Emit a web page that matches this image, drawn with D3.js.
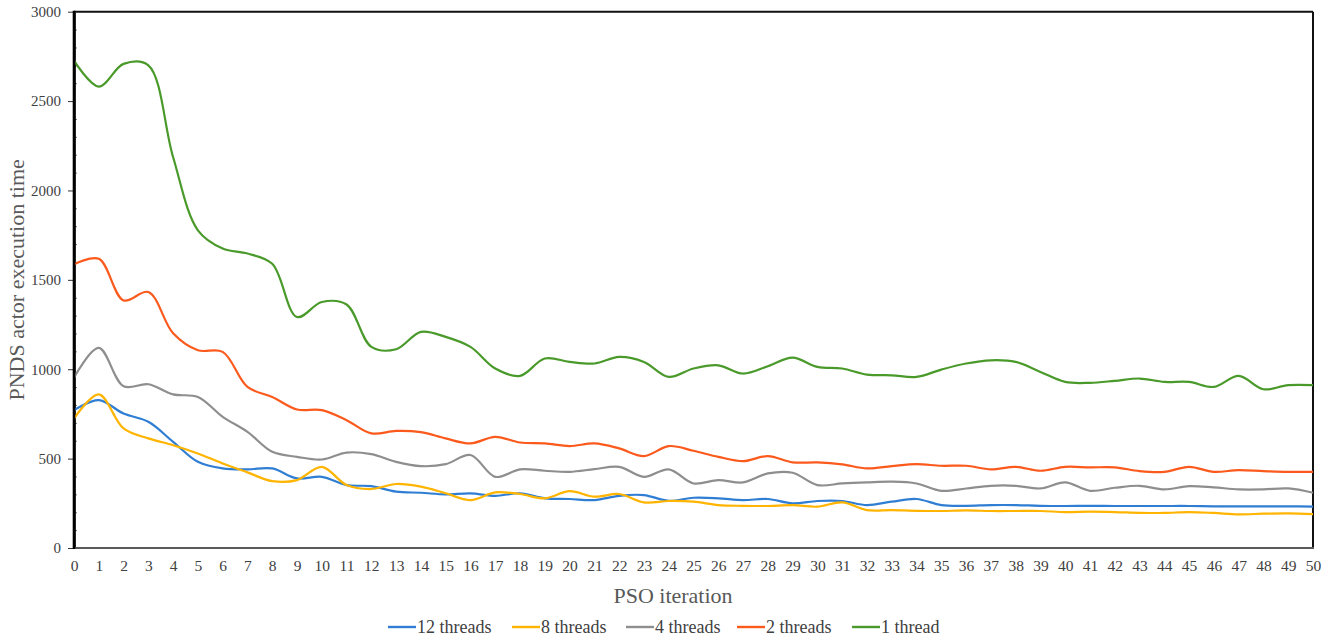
<!DOCTYPE html>
<html>
<head>
<meta charset="utf-8">
<script src="https://cdn.jsdelivr.net/npm/d3@7"></script>
<style>
  body { margin: 0; background: #fff; }
  text { font-family: 'Liberation Serif', 'Times New Roman', serif; }
</style>
</head>
<body>
<div id="chart"></div>
<script>
var iterations = [0, 1, 2, 3, 4, 5, 6, 7, 8, 9, 10, 11, 12, 13, 14, 15, 16, 17, 18, 19, 20,
                  21, 22, 23, 24, 25, 26, 27, 28, 29, 30, 31, 32, 33, 34, 35, 36, 37, 38, 39, 40,
                  41, 42, 43, 44, 45, 46, 47, 48, 49, 50];
var yTicks = [0, 500, 1000, 1500, 2000, 2500, 3000];

var threads12 = [771, 827, 752, 706, 594, 482, 445, 440, 445, 389, 398, 352, 346, 315, 309, 300, 306, 292, 306, 278, 274,
                 268, 292, 296, 264, 281, 278, 268, 274, 250, 263, 263, 240, 259, 274, 240, 236, 240, 240, 236, 235,
                 236, 235, 235, 235, 235, 233, 233, 233, 233, 232];
var threads8 = [724, 859, 669, 613, 575, 529, 473, 423, 374, 380, 454, 352, 330, 358, 343, 306, 268, 311, 302, 278, 318,
                287, 302, 255, 263, 259, 240, 236, 235, 240, 231, 255, 212, 212, 208, 207, 210, 207, 207, 207, 201,
                203, 201, 197, 196, 201, 196, 188, 192, 194, 190];
var threads4 = [953, 1119, 905, 916, 859, 845, 734, 650, 538, 510, 495, 534, 525, 482, 458, 469, 520, 398, 440, 432, 426,
                441, 454, 398, 440, 361, 380, 367, 417, 421, 352, 361, 367, 371, 361, 320, 333, 348, 348, 333, 367,
                320, 337, 348, 328, 346, 339, 328, 328, 333, 309];
var threads2 = [1587, 1618, 1385, 1432, 1201, 1106, 1097, 901, 845, 775, 771, 715, 641, 655, 648, 613, 585, 622, 590, 585, 570,
                585, 557, 514, 570, 544, 510, 486, 514, 479, 479, 468, 445, 458, 469, 460, 460, 440, 454, 432, 454,
                451, 451, 430, 426, 454, 426, 436, 430, 426, 426];
var thread1 = [2726, 2581, 2708, 2700, 2186, 1777, 1675, 1647, 1590, 1292, 1376, 1362, 1125, 1112, 1209, 1181, 1125, 1004, 963, 1060, 1041,
               1032, 1069, 1041, 957, 1004, 1022, 976, 1017, 1065, 1013, 1004, 970, 966, 957, 998, 1032, 1050, 1041, 985, 929,
               924, 935, 948, 929, 929, 901, 963, 888, 911, 911];

var seriesNames = ['12 threads', '8 threads', '4 threads', '2 threads', '1 thread'];
var seriesValues = [threads12, threads8, threads4, threads2, thread1];
var seriesColors = ['#2f7ed3', '#ffb400', '#8e8e8e', '#fb5a1c', '#4a9a2b'];

var W = 1325, H = 638;
var plotLeft = 74, plotRight = 1313, plotTop = 11.7, plotBottom = 548;

var svg = d3.select('#chart')
            .append('svg')
            .attr('width', W)
            .attr('height', H);

var x = d3.scaleLinear().domain([0, 50]).range([plotLeft, plotRight]);
var y = d3.scaleLinear().domain([0, 3000]).range([plotBottom, plotTop]);

// minor ticks, inside the axis
svg.append('g')
   .attr('transform', 'translate(' + plotLeft + ',0)')
   .call(d3.axisRight(y).tickValues(d3.range(100, 3000, 100).filter(function(d){ return d % 500 !== 0; }))
                        .tickSize(3).tickFormat(''))
   .call(function(g){ g.select('.domain').remove(); })
   .selectAll('line').attr('stroke', '#777');

// y axis
var yAxis = svg.append('g')
               .attr('transform', 'translate(' + plotLeft + ',0)')
               .call(d3.axisLeft(y).tickValues(yTicks).tickSize(6).tickPadding(7).tickSizeOuter(0).tickFormat(d3.format('d')));
yAxis.select('.domain').attr('stroke', '#000').attr('stroke-width', 2.6);
yAxis.selectAll('.tick line').attr('stroke', '#333');
yAxis.selectAll('text').attr('font-size', 15).attr('fill', '#404040')
     .style('font-family', "'Liberation Serif', serif");

// x axis (labels only)
var xAxis = svg.append('g')
               .attr('transform', 'translate(0,' + plotBottom + ')')
               .call(d3.axisBottom(x).tickValues(iterations).tickSize(0).tickPadding(12).tickFormat(d3.format('d')));
xAxis.select('.domain').remove();
xAxis.selectAll('text').attr('font-size', 15.5).attr('fill', '#404040')
     .style('font-family', "'Liberation Serif', serif");

// frame: top and right border, bottom axis line
svg.append('line').attr('x1', plotLeft).attr('x2', plotRight).attr('y1', plotTop).attr('y2', plotTop)
   .attr('stroke', '#111').attr('stroke-width', 2);
svg.append('line').attr('x1', plotRight).attr('x2', plotRight).attr('y1', plotTop).attr('y2', plotBottom)
   .attr('stroke', '#111').attr('stroke-width', 2);
svg.append('line').attr('x1', plotLeft).attr('x2', plotRight + 1).attr('y1', plotBottom).attr('y2', plotBottom)
   .attr('stroke', '#595959').attr('stroke-width', 2.2);

// series
var line = d3.line()
             .x(function(d, i){ return x(iterations[i]); })
             .y(function(d){ return y(d); })
             .curve(d3.curveCatmullRom.alpha(0.5));

svg.append('g')
   .selectAll('path')
   .data(seriesValues)
   .enter()
   .append('path')
   .attr('d', line)
   .attr('fill', 'none')
   .attr('stroke', function(d, i){ return seriesColors[i]; })
   .attr('stroke-width', 2.2);

// redraw y axis line over the series
svg.append('line').attr('x1', plotLeft).attr('x2', plotLeft).attr('y1', plotTop - 1).attr('y2', plotBottom + 1)
   .attr('stroke', '#000').attr('stroke-width', 2.6);

// titles
svg.append('text')
   .attr('x', 673)
   .attr('y', 603)
   .attr('text-anchor', 'middle')
   .attr('font-size', 22)
   .attr('fill', '#595959')
   .text('PSO iteration');

svg.append('text')
   .attr('transform', 'translate(24,' + ((plotTop + plotBottom) / 2) + ') rotate(-90)')
   .attr('text-anchor', 'middle')
   .attr('font-size', 22)
   .attr('fill', '#595959')
   .text('PNDS actor execution time');

// legend
var legendX = [388, 512, 626, 737, 852];
var legend = svg.append('g')
                .selectAll('g')
                .data(seriesNames)
                .enter()
                .append('g')
                .attr('transform', function(d, i){ return 'translate(' + legendX[i] + ',627)'; });
legend.append('line')
      .attr('x1', 0).attr('x2', 28)
      .attr('stroke', function(d, i){ return seriesColors[i]; })
      .attr('stroke-width', 2.4);
legend.append('text')
      .attr('x', 29)
      .attr('y', 6)
      .attr('font-size', 18)
      .attr('fill', '#404040')
      .text(function(d){ return d; });
</script>
</body>
</html>
